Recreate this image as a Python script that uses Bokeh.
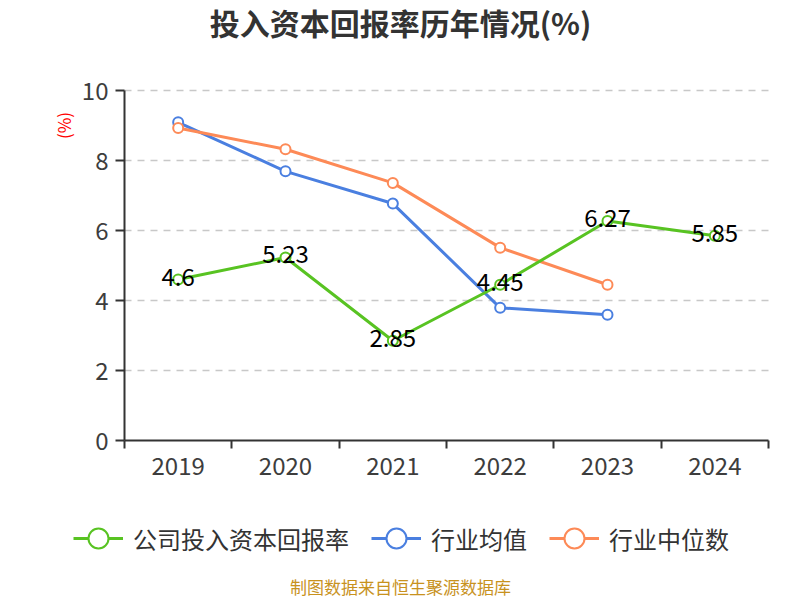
import math
from bokeh.plotting import figure
from bokeh.models import (ColumnDataSource, FixedTicker, Label, Legend, LegendItem, Range1d)
from bokeh.core.properties import value
from bokeh.embed import file_html
from bokeh.resources import INLINE

years = ["2019", "2020", "2021", "2022", "2023", "2024"]
company = [4.6, 5.23, 2.85, 4.45, 6.27, 5.85]
industry_avg = [9.09, 7.69, 6.77, 3.79, 3.59]
industry_median = [8.93, 8.32, 7.36, 5.51, 4.45]
y_ticks = [0, 2, 4, 6, 8, 10]
y_min, y_max = 0, 10

GREEN = "#58c322"
BLUE = "#4a7fe0"
ORANGE = "#fd8a57"
FONT = "Noto Sans CJK SC"

W, H = 800, 600
# plot area in canvas pixels
PL, PR, PT, PB = 124, 768, 90, 440
n = len(years)
xpx = (PR - PL) / n
ypx = (PB - PT) / (y_max - y_min)
x_range = Range1d(-PL / xpx, n + (W - PR) / xpx)
y_range = Range1d(y_min - (H - PB) / ypx, y_max + PT / ypx)

xs = [i + 0.5 for i in range(n)]

p = figure(width=W, height=H, output_backend="svg", toolbar_location=None,
           x_range=x_range, y_range=y_range, min_border=0)
p.outline_line_color = None
p.background_fill_color = "white"

# axes, drawn at the data origin
p.xaxis.fixed_location = y_min
p.xaxis.bounds = (0, n)
p.xaxis.ticker = FixedTicker(ticks=xs, minor_ticks=list(range(n + 1)))
p.xaxis.major_label_overrides = {x: y for x, y in zip(xs, years)}
p.xaxis.major_tick_line_color = None
p.xaxis.minor_tick_out = 8
p.xaxis.minor_tick_in = 0
p.xaxis.minor_tick_line_color = "#333333"
p.xaxis.minor_tick_line_width = 2
p.xaxis.axis_line_color = "#333333"
p.xaxis.axis_line_width = 2
p.xaxis.major_label_text_font = FONT
p.xaxis.major_label_text_font_size = "24px"
p.xaxis.major_label_text_color = "#3d3d3d"
p.xaxis.major_label_standoff = 8

p.yaxis.fixed_location = 0
p.yaxis.bounds = (y_min, y_max)
p.yaxis.ticker = FixedTicker(ticks=y_ticks)
p.yaxis.minor_tick_line_color = None
p.yaxis.major_tick_out = 9
p.yaxis.major_tick_in = 0
p.yaxis.major_tick_line_color = "#333333"
p.yaxis.major_tick_line_width = 2
p.yaxis.axis_line_color = "#333333"
p.yaxis.axis_line_width = 2
p.yaxis.major_label_text_font = FONT
p.yaxis.major_label_text_font_size = "24px"
p.yaxis.major_label_text_color = "#3d3d3d"
p.yaxis.major_label_standoff = 7

p.xgrid.grid_line_color = None
p.ygrid.ticker = FixedTicker(ticks=y_ticks[1:])
p.ygrid.grid_line_color = "#c8c8c8"
p.ygrid.grid_line_dash = "7 6"
p.ygrid.grid_line_width = 1.5
if "cross_bounds" in p.ygrid[0].properties():
    p.ygrid.cross_bounds = (0, n)
else:
    p.ygrid.grid_line_color = None
    p.segment(x0=[0] * (len(y_ticks) - 1), x1=[n] * (len(y_ticks) - 1),
              y0=y_ticks[1:], y1=y_ticks[1:], line_color="#c8c8c8",
              line_dash="7 6", line_width=1.5)

src_c = ColumnDataSource(dict(x=xs, y=company, t=[str(v) for v in company]))
src_a = ColumnDataSource(dict(x=xs[:len(industry_avg)], y=industry_avg))
src_m = ColumnDataSource(dict(x=xs[:len(industry_median)], y=industry_median))

la = p.line("x", "y", source=src_a, line_color=BLUE, line_width=3)
sa = p.scatter("x", "y", source=src_a, size=10, fill_color="white", line_color=BLUE, line_width=2)
lm = p.line("x", "y", source=src_m, line_color=ORANGE, line_width=3)
sm = p.scatter("x", "y", source=src_m, size=10, fill_color="white", line_color=ORANGE, line_width=2)
lc = p.line("x", "y", source=src_c, line_color=GREEN, line_width=3)
sc = p.scatter("x", "y", source=src_c, size=10, fill_color="white", line_color=GREEN, line_width=2)

p.text("x", "y", text="t", source=src_c, text_align="center", text_baseline="middle",
       text_font_size="24px", text_color="#000000", text_font=value(FONT), y_offset=-3)

legend = Legend(items=[
    LegendItem(label="公司投入资本回报率", renderers=[lc, sc]),
    LegendItem(label="行业均值", renderers=[la, sa]),
    LegendItem(label="行业中位数", renderers=[lm, sm]),
], orientation="horizontal", location=(73, 34), border_line_color=None,
    background_fill_alpha=0, label_text_font=FONT, label_text_font_size="24px",
    label_text_color="#333333", glyph_width=50, glyph_height=56, spacing=22,
    label_standoff=10, padding=0, margin=0)
p.add_layout(legend, "center")

title = Label(x=400, y=579, x_units="screen", y_units="screen", text="投入资本回报率历年情况(%)",
              text_align="center", text_baseline="middle", text_font=FONT,
              text_font_size="30px", text_font_style="bold", text_color="#333333")
p.add_layout(title)

ylab = Label(x=63, y=475, x_units="screen", y_units="screen", text="(%)", angle=math.pi / 2,
             text_align="center", text_baseline="middle", text_font=FONT,
             text_font_size="17px", text_color="#ff0000")
p.add_layout(ylab)

foot = Label(x=400, y=14, x_units="screen", y_units="screen", text="制图数据来自恒生聚源数据库",
             text_align="center", text_baseline="middle", text_font=FONT,
             text_font_size="17px", text_color="#c8921e")
p.add_layout(foot)

open("out.html", "w").write(file_html(p, INLINE))
